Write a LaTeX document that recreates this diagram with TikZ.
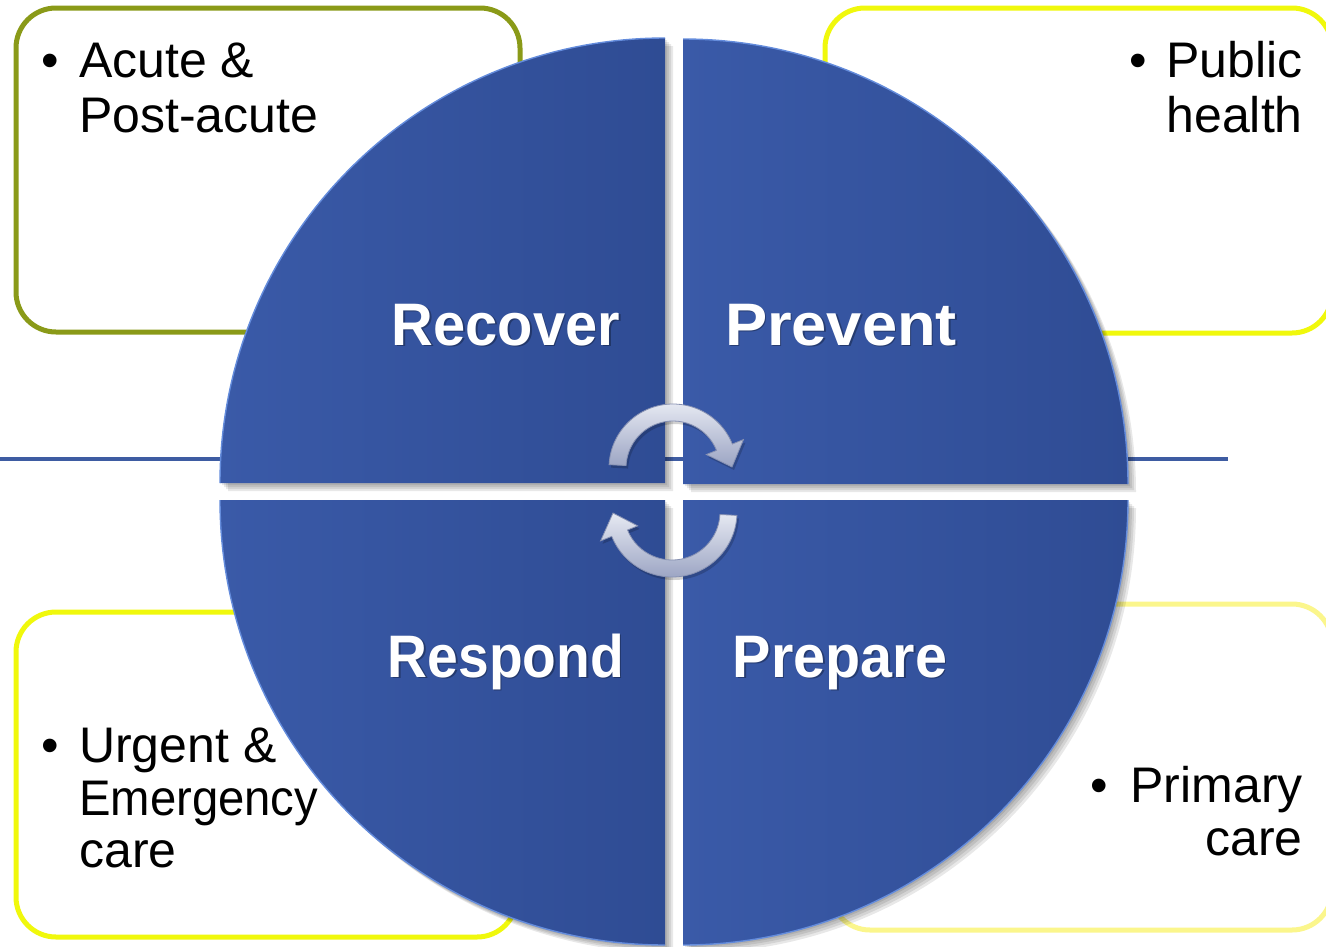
\documentclass[tikz,border=0pt]{standalone}
\usepackage{fontspec}
\usepackage{graphicx}
\setmainfont{Liberation Sans}
\definecolor{qlight}{RGB}{58,90,168}
\definecolor{qdark}{RGB}{47,76,148}
\definecolor{qrim}{RGB}{100,140,220}
\definecolor{hlinec}{RGB}{62,92,162}
\definecolor{olivebox}{RGB}{138,154,24}
\definecolor{yelbox}{RGB}{240,248,12}
\definecolor{paleyel}{RGB}{251,246,140}
\definecolor{arrtop}{RGB}{230,233,242}
\definecolor{arrbot}{RGB}{155,164,195}
\definecolor{arredge}{RGB}{135,145,178}
\begin{document}
\begin{tikzpicture}[x=1pt,y=1pt,
  box/.style={draw, line width=5pt, rounded corners=40pt, inner sep=0pt, fill=white},
  qfill/.style={left color=qlight, right color=qdark},
  qshadow/.style={fill=black, opacity=0.09},
  qrimline/.style={draw=qrim, line width=1.4pt},
  qlabel/.style={text=white, font=\fontsize{60}{60}\selectfont\bfseries, inner sep=0pt, anchor=base},
  qlabelsh/.style={text=black, opacity=0.3, font=\fontsize{60}{60}\selectfont\bfseries, inner sep=0pt, anchor=base},
  btext/.style={font=\fontsize{50}{55}\selectfont, inner sep=0pt, text=black},
  cyclearrow/.style={top color=arrtop, bottom color=arrbot, draw=arredge, line width=0.8pt},
  arrowsh/.style={fill=black, opacity=0.18}
]
\useasboundingbox (0,0) rectangle (1326,-946);

% side boxes
\node[box, draw=olivebox, minimum width=504pt, minimum height=324pt] (boxTL) at (268,-170) {};
\node[box, draw=yelbox, minimum width=507pt, minimum height=325pt] (boxTR) at (1078.5,-170.5) {};
\node[box, draw=yelbox, minimum width=501pt, minimum height=325pt] (boxBL) at (266.5,-774.5) {};
\node[box, draw=paleyel, minimum width=502pt, minimum height=326pt] (boxBR) at (1081,-767) {};

% horizontal line
\coordinate (lineL) at (0,-459);
\coordinate (lineR) at (1228,-459);
\draw[draw=hlinec, line width=3.5pt] (lineL) -- (lineR);

% quadrant shadows
\foreach \s in {2,4,6,8} {
  \fill[qshadow, shift={(\s,-\s)}] (665,-483) -- (220,-483) arc[start angle=180,end angle=90,radius=445pt] -- cycle;
  \fill[qshadow, shift={(\s,-\s)}] (683,-484) -- (683,-39) arc[start angle=90,end angle=0,radius=445pt] -- cycle;
  \fill[qshadow, shift={(\s,-\s)}] (665,-500) -- (665,-945) arc[start angle=270,end angle=180,radius=445pt] -- cycle;
  \fill[qshadow, shift={(\s,-\s)}] (683,-500) -- (1128,-500) arc[start angle=0,end angle=-90,radius=445pt] -- cycle;
}

% quadrants
\path[qfill] (665,-483) -- (220,-483) arc[start angle=180,end angle=90,radius=445pt] -- cycle;
\path[qfill] (683,-484) -- (683,-39) arc[start angle=90,end angle=0,radius=445pt] -- cycle;
\path[qfill] (665,-500) -- (665,-945) arc[start angle=270,end angle=180,radius=445pt] -- cycle;
\path[qfill] (683,-500) -- (1128,-500) arc[start angle=0,end angle=-90,radius=445pt] -- cycle;

% rim highlights
\draw[qrimline] (220,-483) arc[start angle=180,end angle=90,radius=445pt];
\draw[qrimline] (683,-39) arc[start angle=90,end angle=0,radius=445pt];
\draw[qrimline] (665,-945) arc[start angle=270,end angle=180,radius=445pt];
\draw[qrimline] (1128,-500) arc[start angle=0,end angle=-90,radius=445pt];

% quadrant labels
\node[qlabelsh] (recS) at (507.5,-346.5) {\scalebox{0.963}[1]{Recover}};
\node[qlabel] (recover) at (506,-345) {\scalebox{0.963}[1]{Recover}};
\node[qlabelsh] (preS) at (842.5,-346.5) {\scalebox{1.054}[1]{Prevent}};
\node[qlabel] (prevent) at (841,-345) {\scalebox{1.054}[1]{Prevent}};
\node[qlabelsh] (resS) at (507.5,-678.5) {\scalebox{0.92}[1]{Respond}};
\node[qlabel] (respond) at (506,-677) {\scalebox{0.92}[1]{Respond}};
\node[qlabelsh] (prpS) at (841.5,-678.5) {\scalebox{0.958}[1]{Prepare}};
\node[qlabel] (prepare) at (840,-677) {\scalebox{0.958}[1]{Prepare}};

% cycle arrows
\begin{scope}[shift={(673,-468)}]
  \fill[arrowsh, shift={(2,-3)}] (177:64pt) arc[start angle=177,end angle=22,radius=64pt] -- (22:76pt) -- (1:59pt) -- (22:36pt) -- (22:47pt) arc[start angle=22,end angle=177,radius=47pt] -- cycle;
  \path[cyclearrow] (177:64pt) arc[start angle=177,end angle=22,radius=64pt] -- (22:76pt) -- (1:59pt) -- (22:36pt) -- (22:47pt) arc[start angle=22,end angle=177,radius=47pt] -- cycle;
\end{scope}
\begin{scope}[shift={(672,-512)}]
  \fill[arrowsh, shift={(2,-3)}] (-3:65pt) arc[start angle=-3,end angle=-158,radius=65pt] -- (-158:77pt) -- (-179:59pt) -- (-158:37pt) -- (-158:48pt) arc[start angle=-158,end angle=-3,radius=48pt] -- cycle;
  \path[cyclearrow] (-3:65pt) arc[start angle=-3,end angle=-158,radius=65pt] -- (-158:77pt) -- (-179:59pt) -- (-158:37pt) -- (-158:48pt) arc[start angle=-158,end angle=-3,radius=48pt] -- cycle;
\end{scope}

% box texts
\node[btext, anchor=base] (bTL) at (50,-77) {\textbullet};
\node[btext, anchor=base west] (tl1) at (79,-77) {Acute \&};
\node[btext, anchor=base west] (tl2) at (79,-132) {Post-acute};

\node[btext, anchor=base] (bTR) at (1138,-77) {\textbullet};
\node[btext, anchor=base east] (tr1) at (1303,-77) {Public};
\node[btext, anchor=base east] (tr2) at (1303,-132) {health};

\node[btext, anchor=base] (bBL) at (50,-762) {\textbullet};
\node[btext, anchor=base west] (bl1) at (79,-762) {Urgent \&};
\node[btext, anchor=base west] (bl2) at (79,-815) {\scalebox{0.945}[1]{Emergency}};
\node[btext, anchor=base west] (bl3) at (79,-867) {care};

\node[btext, anchor=base] (bBR) at (1099,-802) {\textbullet};
\node[btext, anchor=base east] (br1) at (1303,-802) {Primary};
\node[btext, anchor=base east] (br2) at (1303,-855) {care};
\end{tikzpicture}
\end{document}
